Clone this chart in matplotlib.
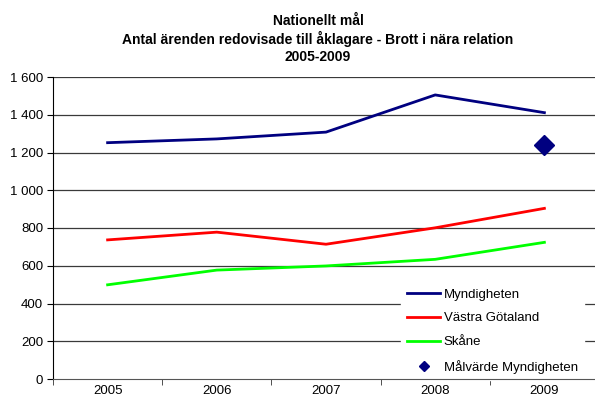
import numpy as np
import matplotlib.pyplot as plt

plt.rcParams['font.family'] = ['Liberation Sans', 'DejaVu Sans']

years = ['2005', '2006', '2007', '2008', '2009']
myndigheten = [1252, 1272, 1308, 1505, 1411]
vastra_gotaland = [737, 778, 714, 801, 904]
skane = [499, 577, 599, 634, 724]
malvarde = 1238

x = np.arange(len(years))

fig = plt.figure(figsize=(5.95, 4.03), dpi=100)
ax = fig.add_axes([53/595, 24/403, 546/595, 302/403])

ax.set_ylim(0, 1600)
ax.set_xlim(-0.5, len(years) - 0.5)
for v in range(200, 1601, 200):
    ax.axhline(v, color='#3a3a3a', lw=0.9, zorder=1)

ax.plot(x, myndigheten, color='#000080', lw=2, label='Myndigheten', zorder=3)
ax.plot(x, vastra_gotaland, color='#ff0000', lw=2, label='Västra Götaland', zorder=3)
ax.plot(x, skane, color='#00ff00', lw=2, label='Skåne', zorder=3)
ax.plot([x[-1]], [malvarde], 'D', color='#000080', ms=10, ls='none',
        label='Målvärde Myndigheten', zorder=4)

ax.set_yticks(range(0, 1601, 200))
ax.set_yticklabels(['0' if v == 0 else f'{v:,}'.replace(',', ' ') for v in range(0, 1601, 200)],
                   fontsize=9.5)
ax.set_xticks(x)
ax.set_xticklabels(years, fontsize=9.5)
ax.set_xticks(np.arange(-0.5, len(years)), minor=True)
ax.tick_params(axis='x', which='major', length=0, pad=4)
ax.tick_params(axis='x', which='minor', length=4, color='#333333')
ax.tick_params(axis='y', length=4, pad=3)
for s in ['top', 'right']:
    ax.spines[s].set_visible(False)
ax.spines['left'].set_color('black')
ax.spines['bottom'].set_color('#555555')

handles, labels = ax.get_legend_handles_labels()
handles[-1] = plt.Line2D([], [], marker='D', color='#000080', ms=5, ls='none')
leg = ax.legend(handles, labels, loc='lower right', bbox_to_anchor=(591/595, 16/403),
                bbox_transform=fig.transFigure,
                frameon=True, fontsize=9.5, handlelength=2.5, handletextpad=0.25,
                labelspacing=0.88, borderpad=0.5, fancybox=False)
leg.get_frame().set_edgecolor('white')
leg.get_frame().set_alpha(1)
leg.set_zorder(2)

fig.text(318/595, 1 - 21/403, 'Nationellt mål', ha='center', va='center',
         fontsize=10, fontweight='bold')
fig.text(318/595, 1 - 39/403, 'Antal ärenden redovisade till åklagare - Brott i nära relation',
         ha='center', va='center', fontsize=10, fontweight='bold')
fig.text(318/595, 1 - 57/403, '2005-2009', ha='center', va='center',
         fontsize=10, fontweight='bold')

fig.savefig('out.png', dpi=100)
